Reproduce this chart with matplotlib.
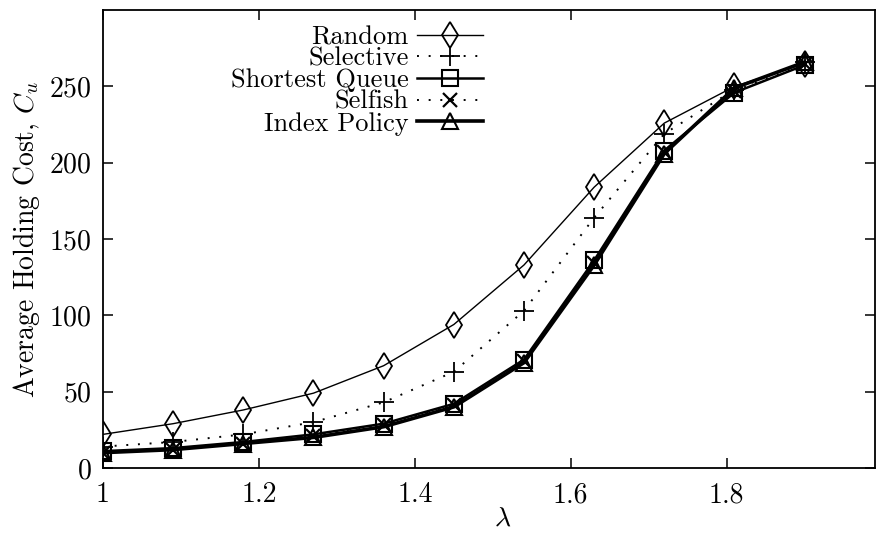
import matplotlib
matplotlib.use("Agg")
import matplotlib.pyplot as plt

plt.rcParams['font.family'] = 'serif'
plt.rcParams['font.serif'] = ['cmr10', 'DejaVu Serif']
plt.rcParams['mathtext.fontset'] = 'cm'
plt.rcParams['axes.formatter.use_mathtext'] = True

lam = [1.0, 1.09, 1.18, 1.27, 1.36, 1.45, 1.54, 1.63, 1.72, 1.81, 1.90]
random_cost = [22, 29, 38, 49, 67, 94, 133, 184, 226, 250, 265]
selective = [14, 17, 22, 30, 43, 63, 103, 164, 219, 248, 266]
shortest_queue = [11, 13, 17, 22, 29, 42, 71, 136, 208, 246, 264]
selfish = [10, 12, 16, 21, 28, 41, 70, 134, 207, 247, 265]
index_policy = [10, 12, 16, 20, 27, 40, 69, 133, 206, 249, 266]

fig = plt.figure(figsize=(8.76, 5.36), dpi=100)
ax = fig.add_axes([0.1176, 0.127, 0.881, 0.854])

dots = (0, (1, 5))
ax.plot(lam, random_cost, color='black', lw=1.0, marker='d', ms=13,
        mfc='none', mec='black', mew=1.3, label='Random')
ax.plot(lam, selective, color='black', lw=1.4, ls=dots, marker='+', ms=15,
        mec='black', mew=1.3, label='Selective')
ax.plot(lam, shortest_queue, color='black', lw=1.8, marker='s', ms=11,
        mfc='none', mec='black', mew=1.5, label='Shortest Queue')
ax.plot(lam, selfish, color='black', lw=1.4, ls=dots, marker='x', ms=10,
        mec='black', mew=1.6, label='Selfish')
ax.plot(lam, index_policy, color='black', lw=2.6, marker='^', ms=12,
        mfc='none', mec='black', mew=1.5, label='Index Policy')

ax.set_xlim(1.0, 1.99)
ax.set_ylim(0, 300)
ax.set_xticks([1, 1.2, 1.4, 1.6, 1.8])
ax.set_xticklabels(['1', '1.2', '1.4', '1.6', '1.8'])
ax.set_yticks([0, 50, 100, 150, 200, 250])
ax.tick_params(direction='in', length=7, width=1.1, labelsize=20,
               top=True, right=True)
ax.tick_params(axis='x', pad=10)
ax.tick_params(axis='y', pad=8)
for s in ax.spines.values():
    s.set_linewidth(1.3)

ax.set_xlabel(r'$\lambda$', fontsize=20)
ax.xaxis.set_label_coords(0.518, -0.082)
ax.set_ylabel(r'Average Holding Cost, $C_u$', fontsize=20, labelpad=5)

ax.legend(loc='upper right', bbox_to_anchor=(0.492, 0.967), frameon=False,
          markerfirst=False, fontsize=19, handlelength=2.5, labelspacing=-0.08,
          handletextpad=0.3, borderpad=0, borderaxespad=0)

fig.savefig('out.png', dpi=100)
